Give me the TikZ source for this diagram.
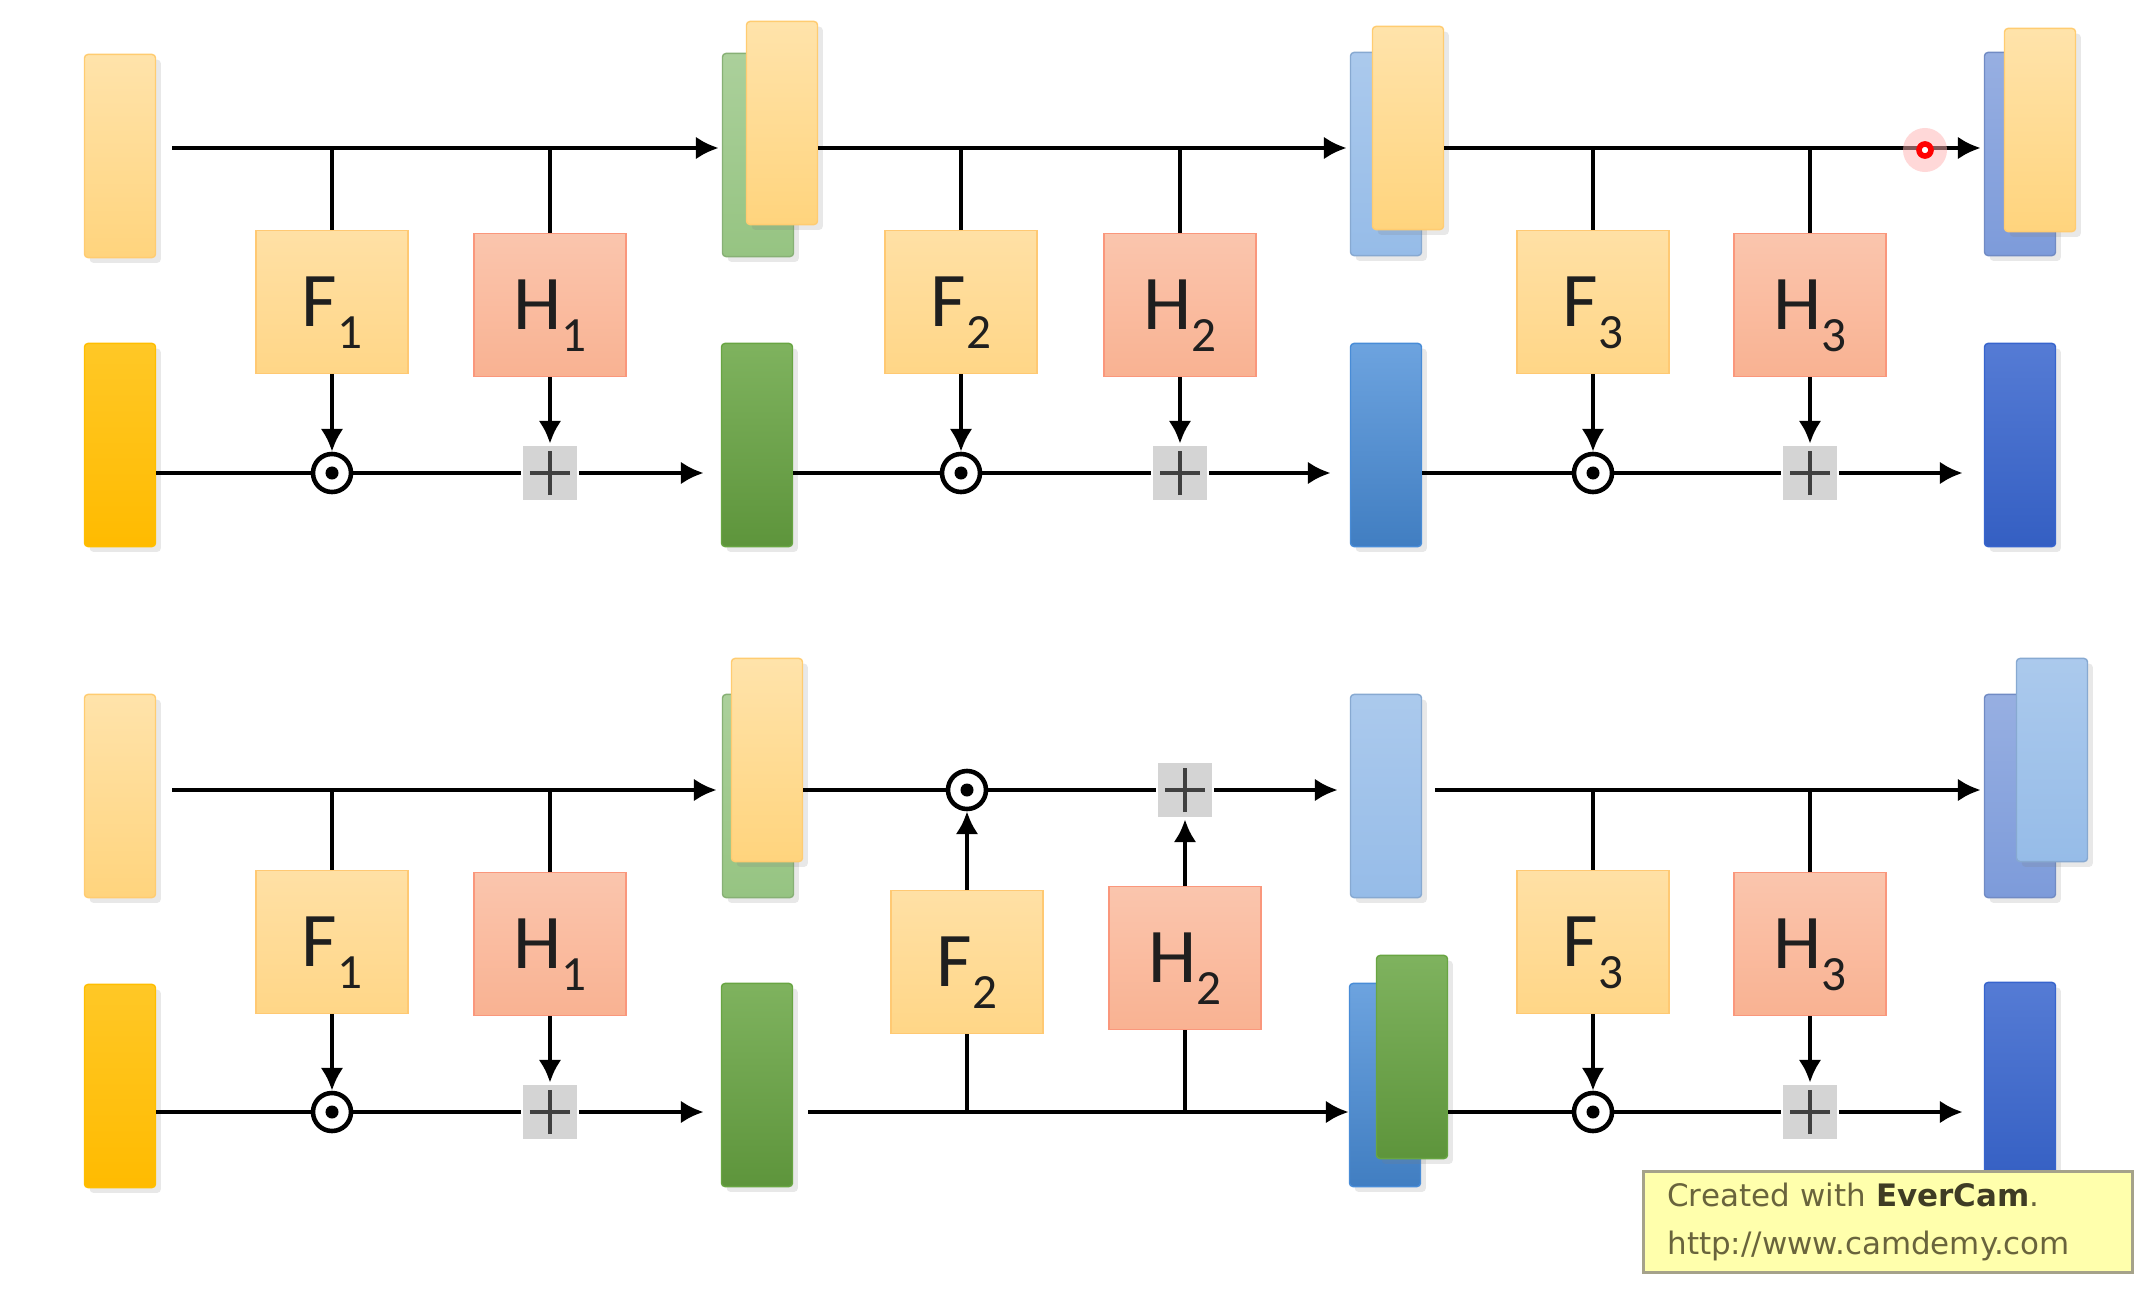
\documentclass[tikz,border=0pt]{standalone}
\usepackage{fontspec}
\setmainfont{Carlito}
\newfontfamily\notefont{DejaVu Sans}
\usetikzlibrary{arrows.meta,positioning,shadows}
\definecolor{ylite}{RGB}{255,212,125}
\definecolor{ydeep}{RGB}{255,190,0}
\definecolor{gdeep}{RGB}{104,165,66}
\definecolor{glite}{RGB}{150,196,130}
\definecolor{bmid}{RGB}{72,140,215}
\definecolor{blite}{RGB}{150,188,232}
\definecolor{bdark}{RGB}{55,100,205}
\definecolor{bpurp}{RGB}{125,155,218}
\definecolor{fcol}{RGB}{255,214,135}
\definecolor{hcol}{RGB}{249,178,146}
\definecolor{plusc}{RGB}{212,212,212}
\definecolor{notec}{RGB}{255,255,172}
\definecolor{notet}{RGB}{105,100,60}
\newcommand{\opname}[2]{#1\smash{\raisebox{-6.2pt}{\fontsize{14}{14}\selectfont #2}}}

\tikzset{
  blk/.style={rectangle, minimum width=0.71cm, minimum height=2.03cm, inner sep=0pt,
    rounded corners=1pt, line width=0.4pt,
    drop shadow={shadow xshift=1.5pt, shadow yshift=-1.5pt, opacity=0.18}},
  yl/.style={blk, top color=ylite!65!white, bottom color=ylite, draw=ylite!90!orange},
  gold/.style={blk, top color=ydeep!85!white, bottom color=ydeep!95!orange, draw=ydeep},
  gl/.style={blk, top color=glite!80!white, bottom color=glite, draw=glite!90!black},
  gr/.style={blk, top color=gdeep!85!white, bottom color=gdeep!90!black, draw=gdeep},
  bl/.style={blk, top color=blite!80!white, bottom color=blite, draw=blite!90!black},
  bm/.style={blk, top color=bmid!80!white, bottom color=bmid!90!black, draw=bmid},
  bp/.style={blk, top color=bpurp!80!white, bottom color=bpurp, draw=bpurp!90!black},
  bd/.style={blk, top color=bdark!85!white, bottom color=bdark!95!black, draw=bdark},
  fbox/.style={rectangle, minimum width=1.52cm, minimum height=1.43cm, inner sep=0pt,
    line width=0.5pt, top color=fcol!75!white, bottom color=fcol, draw=fcol!85!orange,
    text=black!88, font=\fontsize{22}{22}\selectfont},
  hbox/.style={fbox, top color=hcol!75!white, bottom color=hcol, draw=hcol!85!red},
  odotop/.style={circle, draw, line width=1.3pt, fill=white, minimum size=0.38cm, inner sep=0pt,
    path picture={\fill[black] (path picture bounding box.center) circle (0.065cm);}},
  plusop/.style={rectangle, fill=plusc, minimum size=0.54cm, inner sep=0pt,
    path picture={\draw[line width=0.9pt, black!75]
      ([xshift=-0.2cm]path picture bounding box.center) -- ([xshift=0.2cm]path picture bounding box.center)
      ([yshift=-0.22cm]path picture bounding box.center) -- ([yshift=0.22cm]path picture bounding box.center);}},
  flow/.style={-{Latex[length=6.5pt,width=6.5pt]}},
  note/.style={rectangle, fill=notec, draw=notet!60, line width=0.8pt, minimum height=0.98cm,
    text width=4.41cm, inner xsep=0.24cm, align=left, text=notet,
    font=\notefont\fontsize{8.8}{13.4}\selectfont}
}

\begin{document}
\begin{tikzpicture}[x=0.01cm, y=-0.01cm, line width=1.3pt]
\useasboundingbox[fill=white] (0,0) rectangle (2148,1300);

% ---------- upper diagram ----------
\coordinate (urowa) at (0,148);
\coordinate (urowb) at (0,473);
\node[yl] (ut0) at (120,156) {};
\node[gold] (ub0) at (120,445) {};
\node[gl] (utk1) at (758,155) {};
\node[yl] (ut1) at (782,123) {};
\node[gr] (ub1) at (757,445) {};
\node[bl] (utk2) at (1386,154) {};
\node[yl] (ut2) at (1408,128) {};
\node[bm] (ub2) at (1386,445) {};
\node[bp] (utk3) at (2020,154) {};
\node[yl] (ut3) at (2040,130) {};
\node[bd] (ub3) at (2020,445) {};

\foreach \i/\j/\fx/\hx/\ga/\gb in {1/0/332/550/0.16cm/0.17cm, 2/1/961/1180/0cm/0.19cm, 3/2/1593/1810/0cm/0.21cm} {
  \node[fbox] (uf\i) at (\fx,302) {\opname F\i};
  \node[hbox] (uh\i) at (\hx,305) {\opname H\i};
  \node[odotop] (uo\i) at (uf\i |- urowb) {};
  \node[plusop] (up\i) at (uh\i |- urowb) {};
  % feature stream
  \draw[flow, shorten <=\ga, shorten >=0.03cm] (ut\j.east |- urowa) -- (utk\i.west |- urowa);
  \draw (uf\i |- urowa) -- (uf\i);
  \draw (uh\i |- urowa) -- (uh\i);
  \draw[flow] (uf\i) -- (uo\i);
  \draw[flow] (uh\i) -- (up\i);
  % gated stream
  \draw (ub\j.east |- urowb) -- (uo\i);
  \draw (uo\i) -- (up\i);
  \draw[flow, shorten >=\gb] (up\i) -- (ub\i.west |- urowb);
}
% cursor mark
\fill[red!30, opacity=0.5] (1925,150) circle (0.22cm);
\node[circle, draw=red, fill=white, line width=1.6pt, minimum size=0.12cm, inner sep=0pt] (mouse) at (1925,150) {};

% ---------- lower diagram ----------
\coordinate (lrowa) at (0,790);
\coordinate (lrowb) at (0,1112);
\node[yl] (lt0) at (120,796) {};
\node[gold] (lb0) at (120,1086) {};
\node[gl] (ltk1) at (758,796) {};
\node[yl] (lt1) at (767,760) {};
\node[gr] (lb1) at (757,1085) {};
\node[bl] (lt2) at (1386,796) {};
\node[bm] (lbk2) at (1385,1085) {};
\node[gr] (lb2) at (1412,1057) {};
\node[bp] (ltk3) at (2020,796) {};
\node[bl] (lt3) at (2052,760) {};
\node[bd] (lb3) at (2020,1084) {};

% stage 1
\node[fbox] (lf1) at (332,942) {\opname F1};
\node[hbox] (lh1) at (550,944) {\opname H1};
\node[odotop] (lo1) at (lf1 |- lrowb) {};
\node[plusop] (lp1) at (lh1 |- lrowb) {};
\draw[flow, shorten <=0.16cm, shorten >=0.05cm] (lt0.east |- lrowa) -- (ltk1.west |- lrowa);
\draw (lf1 |- lrowa) -- (lf1);
\draw (lh1 |- lrowa) -- (lh1);
\draw[flow] (lf1) -- (lo1);
\draw[flow] (lh1) -- (lp1);
\draw (lb0.east |- lrowb) -- (lo1);
\draw (lo1) -- (lp1);
\draw[flow, shorten >=0.17cm] (lp1) -- (lb1.west |- lrowb);

% stage 2 (streams swapped)
\node[fbox] (lf2) at (967,962) {\opname F2};
\node[hbox] (lh2) at (1185,958) {\opname H2};
\node[odotop] (lo2) at (lf2 |- lrowa) {};
\node[plusop] (lp2) at (lh2 |- lrowa) {};
\draw (lt1.east |- lrowa) -- (lo2);
\draw (lo2) -- (lp2);
\draw[flow, shorten >=0.12cm] (lp2) -- (lt2.west |- lrowa);
\draw[flow] (lf2) -- (lo2);
\draw[flow] (lh2) -- (lp2);
\draw[flow, shorten <=0.15cm] (lb1.east |- lrowb) -- (lbk2.west |- lrowb);
\draw (lf2 |- lrowb) -- (lf2);
\draw (lh2 |- lrowb) -- (lh2);

% stage 3
\node[fbox] (lf3) at (1593,942) {\opname F3};
\node[hbox] (lh3) at (1810,944) {\opname H3};
\node[odotop] (lo3) at (lf3 |- lrowb) {};
\node[plusop] (lp3) at (lh3 |- lrowb) {};
\draw[flow, shorten <=0.13cm, shorten >=0.03cm] (lt2.east |- lrowa) -- (ltk3.west |- lrowa);
\draw (lf3 |- lrowa) -- (lf3);
\draw (lh3 |- lrowa) -- (lh3);
\draw[flow] (lf3) -- (lo3);
\draw[flow] (lh3) -- (lp3);
\draw (lb2.east |- lrowb) -- (lo3);
\draw (lo3) -- (lp3);
\draw[flow, shorten >=0.21cm] (lp3) -- (lb3.west |- lrowb);

% watermark
\node[note] (mark) at (1888,1222) {Created with \textbf{\color{notet!60!black}EverCam}.\\http://www.camdemy.com};
\end{tikzpicture}
\end{document}
